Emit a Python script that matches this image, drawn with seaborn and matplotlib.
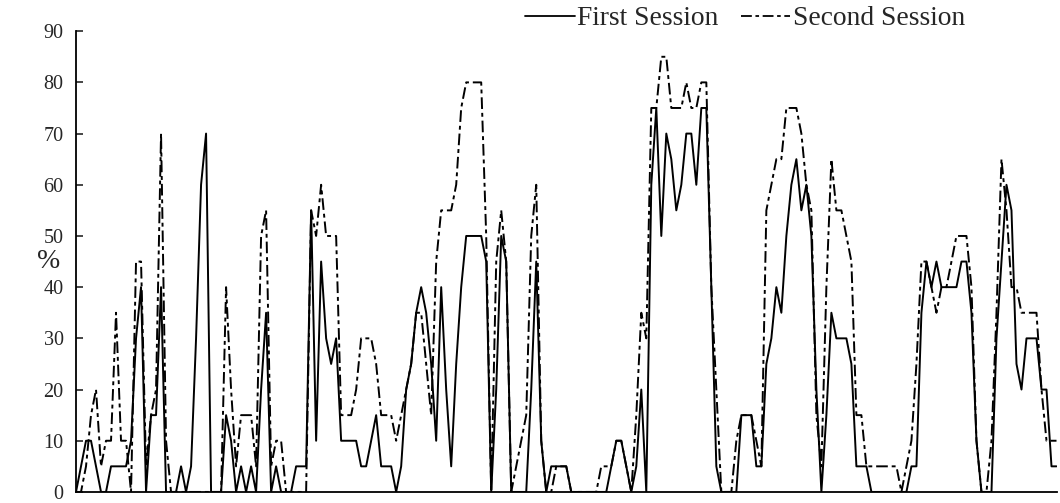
import numpy as np
import pandas as pd
import matplotlib
matplotlib.use("Agg")
import matplotlib.pyplot as plt
import seaborn as sns
from matplotlib.lines import Line2D

# --- datos (un valor cada paso de tiempo) ---
first_session = [
    0, 5, 10, 10, 5, 0, 0, 5, 5, 5, 5, 10, 30, 40, 0, 15, 15, 40, 0, 0,
    0, 5, 0, 5, 30, 60, 70, 0, 0, 0, 15, 10, 0, 5, 0, 5, 0, 20, 35, 0,
    5, 0, 0, 0, 5, 5, 5, 55, 10, 45, 30, 25, 30, 10, 10, 10, 10, 5, 5, 10,
    15, 5, 5, 5, 0, 5, 20, 25, 35, 40, 35, 25, 10, 40, 20, 5, 25, 40, 50, 50,
    50, 50, 45, 0, 20, 50, 45, 0, 0, 0, 0, 20, 45, 10, 0, 5, 5, 5, 5, 0,
    0, 0, 0, 0, 0, 0, 0, 5, 10, 10, 5, 0, 5, 20, 0, 60, 75, 50, 70, 65,
    55, 60, 70, 70, 60, 75, 75, 40, 5, 0, 0, 0, 0, 15, 15, 15, 5, 5, 25, 30,
    40, 35, 50, 60, 65, 55, 60, 50, 20, 0, 15, 35, 30, 30, 30, 25, 5, 5, 5, 0,
    0, 0, 0, 0, 0, 0, 0, 5, 5, 35, 45, 40, 45, 40, 40, 40, 40, 45, 45, 35,
    10, 0, 0, 0, 30, 45, 60, 55, 25, 20, 30, 30, 30, 20, 20, 5, 5,
]
second_session = [
    0, 0, 5, 15, 20, 5, 10, 10, 35, 10, 10, 0, 45, 45, 5, 15, 20, 70, 10, 0,
    0, 0, 0, 0, 0, 0, 0, 0, 0, 0, 40, 20, 5, 15, 15, 15, 5, 50, 55, 5,
    10, 10, 0, 0, 0, 0, 0, 55, 50, 60, 50, 50, 50, 15, 15, 15, 20, 30, 30, 30,
    25, 15, 15, 15, 10, 15, 20, 25, 35, 35, 25, 15, 45, 55, 55, 55, 60, 75, 80, 80,
    80, 80, 50, 0, 45, 55, 45, 0, 5, 10, 15, 50, 60, 10, 0, 0, 5, 5, 5, 0,
    0, 0, 0, 0, 0, 5, 5, 5, 10, 10, 5, 0, 15, 35, 30, 75, 75, 85, 85, 75,
    75, 75, 80, 75, 75, 80, 80, 40, 20, 0, 0, 0, 10, 15, 15, 15, 10, 5, 55, 60,
    65, 65, 75, 75, 75, 70, 60, 55, 15, 5, 40, 65, 55, 55, 50, 45, 15, 15, 5, 5,
    5, 5, 5, 5, 5, 0, 5, 10, 25, 45, 45, 40, 35, 40, 40, 45, 50, 50, 50, 40,
    10, 0, 0, 10, 35, 65, 55, 40, 40, 35, 35, 35, 35, 20, 10, 10, 10,
]
y_ticks = [0, 10, 20, 30, 40, 50, 60, 70, 80, 90]
sessions = ["First Session", "Second Session"]

t = np.arange(len(first_session))
df = pd.DataFrame({
    "t": np.concatenate([t, t]),
    "pct": first_session + second_session,
    "session": [sessions[0]] * len(t) + [sessions[1]] * len(t),
})

sns.set_style("white")
plt.rcParams["font.family"] = ["Liberation Serif", "DejaVu Serif"]

dash2 = (6, 2, 2, 2)
fig = plt.figure(figsize=(10.6, 5.03), dpi=100)
ax = fig.add_axes([0.0717, 0.022, 0.925, 0.916])

sns.lineplot(data=df, x="t", y="pct", style="session",
             dashes={sessions[0]: "", sessions[1]: dash2},
             color="black", linewidth=1.4, ax=ax, legend=False)

ax.set_xlim(0, len(t) - 1)
ax.set_ylim(0, 90)
ax.set_yticks(y_ticks)
ax.set_xticks([])
ax.set_xlabel("")
ax.set_ylabel("%", rotation=0, fontsize=20, va="center", ha="center")
ax.yaxis.set_label_coords(-0.028, 0.5)
ax.tick_params(axis="y", direction="in", length=5, width=1.2, labelsize=14.5, pad=9, left=True)
for s in ["top", "right"]:
    ax.spines[s].set_visible(False)
for s in ["left", "bottom"]:
    ax.spines[s].set_color("black")
    ax.spines[s].set_linewidth(1.3)

handles = [Line2D([], [], color="black", lw=1.3),
           Line2D([], [], color="black", lw=1.3, dashes=dash2)]
fig.legend(handles, sessions, loc="upper right",
           bbox_to_anchor=(0.934, 1.037), ncol=2, frameon=False, fontsize=19.8,
           handlelength=1.8, handletextpad=0.1, columnspacing=0.8)

fig.savefig("out.png", dpi=100)
